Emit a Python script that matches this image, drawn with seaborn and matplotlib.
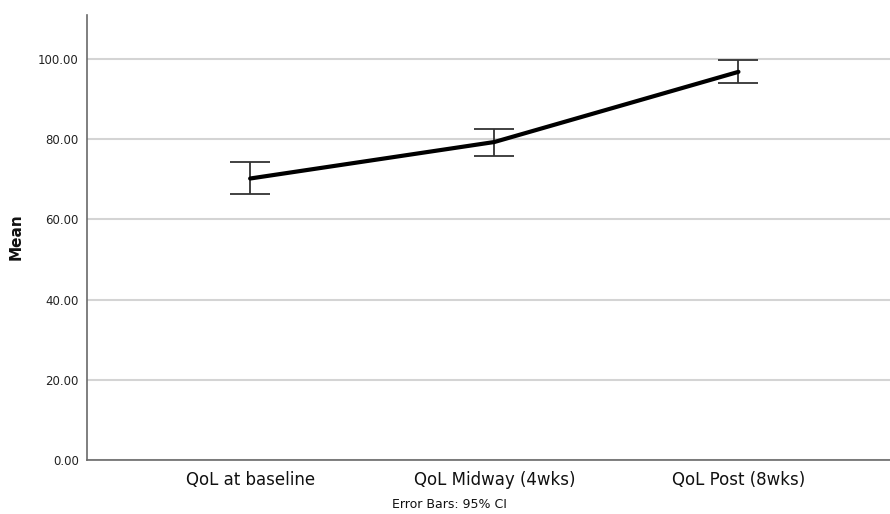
import pandas as pd
import matplotlib.pyplot as plt
import seaborn as sns
from matplotlib.ticker import FormatStrFormatter

categories = ["QoL at baseline", "QoL Midway (4wks)", "QoL Post (8wks)"]
means = [70.2, 79.3, 96.8]
ci_low = [66.25, 75.8, 93.9]
ci_high = [74.2, 82.5, 99.7]

df = pd.DataFrame({"time": categories, "mean": means})

sns.set_style("white")
plt.rcParams["font.family"] = ["DejaVu Sans"]

fig = plt.figure(figsize=(8.9, 5.14), dpi=100)
ax = fig.add_axes([0.0978, 0.105, 0.902, 0.866])

sns.lineplot(data=df, x="time", y="mean", color="black", linewidth=3, ax=ax, zorder=3)

xpos = range(len(categories))
yerr = [[m - lo for m, lo in zip(means, ci_low)], [hi - m for m, hi in zip(means, ci_high)]]
ax.errorbar(list(xpos), means, yerr=yerr, fmt="none", ecolor="#333333",
            elinewidth=1.3, capsize=14.4, capthick=1.3, zorder=2)

ax.set_ylim(0, 111)
ax.set_xlim(-0.668, 2.62)
ax.set_yticks([0, 20, 40, 60, 80, 100])
ax.yaxis.set_major_formatter(FormatStrFormatter("%.2f"))
ax.yaxis.grid(True, color="#d4d4d4", linewidth=1.5)
ax.set_axisbelow(True)

for side in ["top", "right"]:
    ax.spines[side].set_visible(False)
for side in ["left", "bottom"]:
    ax.spines[side].set_color("#6a6a6a")
    ax.spines[side].set_linewidth(1.2)

ax.tick_params(axis="both", length=0)
ax.tick_params(axis="y", labelsize=8.5, labelcolor="#222222", pad=6)
ax.tick_params(axis="x", labelsize=12, labelcolor="#111111", pad=8)

ax.set_xlabel("")
ax.set_ylabel("")
fig.text(0.018, 0.539, "Mean", rotation=90, ha="center", va="center",
         fontsize=11, fontweight="bold", color="#111111")
fig.text(0.505, 0.018, "Error Bars: 95% CI", ha="center", va="center",
         fontsize=9, color="#111111")

fig.savefig("out.png", dpi=100)
